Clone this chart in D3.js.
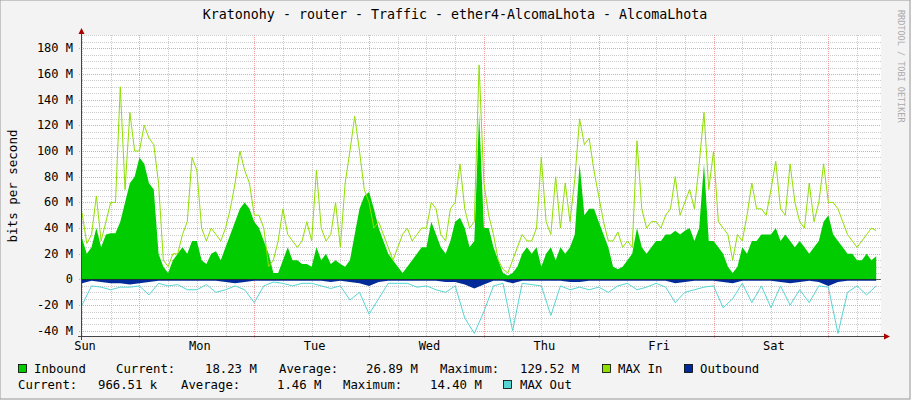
<!DOCTYPE html>
<html><head><meta charset="utf-8">
<script src="https://cdn.jsdelivr.net/npm/d3@7"></script>
<style>body{margin:0;background:#f3f3f3}text{font-family:"DejaVu Sans Mono",monospace}</style>
</head><body><svg id="c" width="911" height="400"></svg>
<script>
const days=["Sun","Mon","Tue","Wed","Thu","Fri","Sat"];
const yTicks=[-40,-20,0,20,40,60,80,100,120,140,160,180];
// hourly inbound (M bit/s)
const inbound=[
32,20,25,40,25,35,36,36,45,60,75,80,95,90,75,70,20,10,5,15,20,25,20,30,
30,15,12,20,22,15,25,35,45,55,60,55,45,40,30,20,5,5,15,25,15,15,12,12,
10,25,15,20,12,15,12,10,15,35,55,65,68,55,40,30,20,15,10,5,10,15,20,25,
25,45,35,25,20,30,45,48,40,25,30,129,40,40,25,15,5,3,5,10,20,25,20,25,
10,20,25,15,25,20,25,35,90,50,55,55,45,35,25,10,8,10,15,20,40,25,20,25,
30,30,35,35,38,35,38,40,30,40,90,30,30,25,20,10,5,10,25,20,30,30,35,35,
35,40,30,35,30,25,30,25,20,25,30,45,50,35,30,25,20,20,15,15,20,15,18];
const maxIn=[
52,28,35,65,30,45,60,60,150,70,130,100,100,120,110,105,75,15,10,20,20,35,45,95,
85,40,30,40,35,30,40,55,75,100,85,75,50,50,40,10,15,30,55,35,30,25,30,45,
30,85,40,30,35,60,25,75,100,127,100,70,60,40,45,35,25,15,25,35,40,30,35,40,
40,60,55,35,30,55,60,90,55,40,45,167,75,50,35,15,8,5,15,25,35,30,30,40,
95,45,35,80,40,75,45,78,125,105,110,85,65,45,30,30,37,25,30,25,108,55,40,45,
45,40,50,55,80,50,60,70,55,90,130,70,100,45,40,35,15,35,30,50,75,55,55,50,
70,92,55,50,90,60,45,40,75,45,60,90,60,60,55,45,35,30,25,30,35,40,38];
// 2-hourly outbound (negative)
const outbound=[
-3,-1,-2,-3,-3,-4,-3,-2,-1,-1,-1,-1,
-1,-1,-1,-2,-3,-2,-1,-1,-1,-1,-1,-1,
-1,-1,-2,-1,-2,-3,-5,-2,-1,-1,-1,-1,
-1,-1,-2,-2,-4,-7,-4,-1,-1,-3,-1,-1,
-1,-1,-1,-2,-2,-1,-1,-1,-1,-1,-1,-1,
-1,-1,-3,-2,-1,-1,-1,-2,-3,-1,-1,-1,
-1,-2,-3,-2,-1,-2,-5,-2,-1,-1,-1,-1];
const maxOut=[
-20,-5,-6,-8,-6,-6,-5,-12,-3,-5,-4,-8,
-8,-4,-10,-8,-5,-8,-18,-5,-2,-3,-5,-3,
-3,-5,-7,-5,-16,-10,-27,-15,-3,-3,-3,-6,
-5,-8,-10,-5,-30,-42,-25,-5,-3,-40,-3,-4,
-5,-28,-5,-8,-6,-8,-6,-10,-5,-3,-8,-6,
-3,-6,-18,-10,-8,-6,-5,-22,-15,-3,-18,-5,
-22,-5,-20,-8,-18,-5,-6,-42,-10,-5,-12,-5];

const svg=d3.select("#c");
const x=d3.scaleLinear().domain([0,167]).range([82,881]);
const y=d3.scaleLinear().domain([-44,190]).range([336,35.4]);
svg.append("rect").attr("x",82).attr("y",35).attr("width",799).attr("height",301).attr("fill","#fff");
const g=svg.append("g");
for(let v=-40;v<=190;v+=5){ if(v%20===0)continue;
 g.append("line").attr("x1",82).attr("x2",881).attr("y1",Math.round(y(v))+.5).attr("y2",Math.round(y(v))+.5).attr("stroke","#ccc").attr("stroke-dasharray","1,1");}
for(let h=0;h<=167;h+=6){ if(h%24===12)continue;
 g.append("line").attr("x1",Math.round(x(h))+.5).attr("x2",Math.round(x(h))+.5).attr("y1",35).attr("y2",336).attr("stroke","#ccc").attr("stroke-dasharray","1,1");}
yTicks.forEach(v=>g.append("line").attr("x1",79).attr("x2",881).attr("y1",Math.round(y(v))+.5).attr("y2",Math.round(y(v))+.5).attr("stroke","#f0a0a0").attr("stroke-dasharray","1,1"));
for(let h=12;h<=167;h+=24)g.append("line").attr("x1",Math.round(x(h))+.5).attr("x2",Math.round(x(h))+.5).attr("y1",35).attr("y2",339).attr("stroke","#f0a0a0").attr("stroke-dasharray","1,1");
const hx=(d,i)=>x(i), h2=(d,i)=>x(i*2);
svg.append("path").datum(inbound).attr("fill","#00cc00").attr("d",d3.area().x(hx).y0(y(0)).y1(d=>y(d)));
svg.append("path").datum(maxIn).attr("fill","none").attr("stroke","#8fe000").attr("stroke-width",1).attr("d",d3.line().x(hx).y(d=>y(d)));
svg.append("path").datum(outbound).attr("fill","#002a97").attr("d",d3.area().x(h2).y0(y(0)).y1(d=>y(d)));
svg.append("path").datum(maxOut).attr("fill","none").attr("stroke","#55d6d3").attr("stroke-width",1).attr("d",d3.line().x(h2).y(d=>y(d)));
svg.append("line").attr("x1",82).attr("x2",881).attr("y1",y(0)).attr("y2",y(0)).attr("stroke","#000").attr("stroke-width",0.6);
svg.append("line").attr("x1",81.5).attr("x2",81.5).attr("y1",32).attr("y2",340).attr("stroke","#444");
svg.append("line").attr("x1",78).attr("x2",884).attr("y1",336.5).attr("y2",336.5).attr("stroke","#444");
svg.append("path").attr("d","M78.5,34 L81.5,28 L84.5,34Z").attr("fill","#a00");
svg.append("path").attr("d","M884,333.5 L890,336.5 L884,339.5Z").attr("fill","#a00");
yTicks.forEach(v=>svg.append("text").attr("x",73).attr("y",y(v)+4).attr("text-anchor","end").attr("font-size",12).attr("fill","#000").attr("xml:space","preserve").text((v<0?"-":"")+Math.abs(v)+(v?" M":"")));
days.forEach((d,i)=>svg.append("text").attr("x",x(i*24)+3).attr("y",350).attr("text-anchor","middle").attr("font-size",12).attr("fill","#000").text(d));
svg.append("text").attr("x",455).attr("y",19).attr("text-anchor","middle").attr("font-size",13.3).text("Kratonohy - router - Traffic - ether4-AlcomaLhota - AlcomaLhota");
svg.append("text").attr("transform","translate(17,186) rotate(-90)").attr("text-anchor","middle").attr("font-size",12.5).text("bits per second");
svg.append("text").attr("transform","translate(898,10) rotate(90)").attr("font-size",8.5).attr("fill","#aaa").text("RRDTOOL / TOBI OETIKER");
const sq=(cx,cy,c)=>svg.append("rect").attr("x",cx+.5).attr("y",cy+.5).attr("width",8).attr("height",8).attr("fill",c).attr("stroke","#000").attr("stroke-width",0.8);
const t=(tx,ty,s)=>svg.append("text").attr("x",tx).attr("y",ty).attr("font-size",12.3).attr("xml:space","preserve").text(s);
sq(18,364,"#00cc00"); t(34,373,"Inbound");
t(116,373,"Current:"); t(205,373,"18.23 M"); t(279,373,"Average:"); t(366,373,"26.89 M"); t(440,373,"Maximum:"); t(520,373,"129.52 M");
sq(602,364,"#8fe000"); t(618,373,"MAX In"); sq(684,364,"#002a97"); t(700,373,"Outbound");
t(18,389,"Current:"); t(98,389,"966.51 k"); t(181,389,"Average:"); t(277,389,"1.46 M"); t(343,389,"Maximum:"); t(430,389,"14.40 M");
sq(503,380,"#55d6d3"); t(520,389,"MAX Out");
svg.append("rect").attr("x",0).attr("y",0).attr("width",910).attr("height",399).attr("fill","none").attr("stroke","#999");
</script></body></html>
